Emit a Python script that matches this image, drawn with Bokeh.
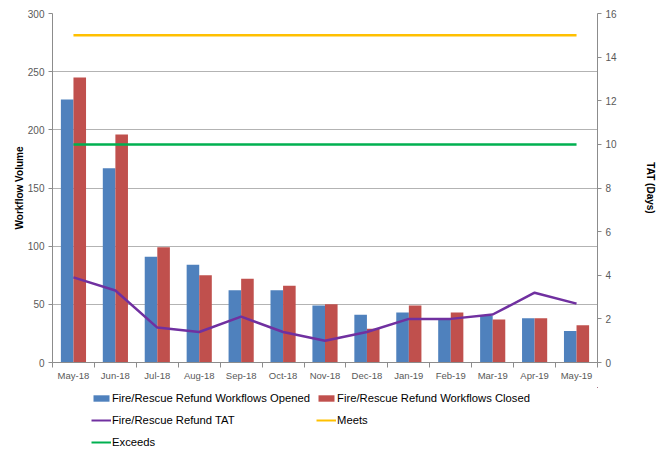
from bokeh.plotting import figure
from bokeh.models import (Range1d, LinearAxis, FixedTicker, SingleIntervalTicker,
                          Legend, LegendItem, ColumnDataSource)
from bokeh.layouts import column
from bokeh.embed import file_html
from bokeh.resources import INLINE

months = ["May-18", "Jun-18", "Jul-18", "Aug-18", "Sep-18", "Oct-18", "Nov-18",
          "Dec-18", "Jan-19", "Feb-19", "Mar-19", "Apr-19", "May-19"]
opened = [226, 167, 91, 84, 62, 62, 49, 41, 43, 38, 40, 38, 27]
closed = [245, 196, 99, 75, 72, 66, 50, 29, 49, 43, 37, 38, 32]
tat = [3.9, 3.3, 1.6, 1.4, 2.1, 1.4, 1.0, 1.4, 2.0, 2.0, 2.2, 3.2, 2.7]
meets = [15, 15, 15, 15, 15, 15, 15, 15, 15, 15, 15, 15, 15]
exceeds = [10, 10, 10, 10, 10, 10, 10, 10, 10, 10, 10, 10, 10]
series_names = ["Fire/Rescue Refund Workflows Opened",
                "Fire/Rescue Refund Workflows Closed",
                "Fire/Rescue Refund TAT", "Meets", "Exceeds"]

FONT = "Liberation Sans"
BLUE, RED, PURPLE, GOLD, GREEN = "#4F81BD", "#C0504D", "#7030A0", "#FFC000", "#00B050"
n = len(months)
centers = [i + 0.5 for i in range(n)]
src = ColumnDataSource(dict(
    c=centers,
    xo=[c - 0.15 for c in centers],
    xc=[c + 0.15 for c in centers],
    opened=opened, closed=closed, tat=tat, meets=meets, exceeds=exceeds,
))

p = figure(frame_width=545, frame_height=349, output_backend="svg",
           toolbar_location=None,
           x_range=Range1d(0, n), y_range=Range1d(0, 300),
           min_border_left=52, min_border_top=13, min_border_right=63,
           min_border_bottom=25)
p.outline_line_color = None
p.extra_y_ranges = {"tat": Range1d(0, 16)}

p.xgrid.visible = False
p.ygrid.grid_line_color = "#B3B3B3"
p.ygrid.grid_line_width = 1
p.ygrid.ticker = SingleIntervalTicker(interval=50)

p.vbar(x="xo", top="opened", width=0.3, source=src, fill_color=BLUE, line_color=None)
p.vbar(x="xc", top="closed", width=0.3, source=src, fill_color=RED, line_color=None)
p.line(x="c", y="tat", source=src, line_color=PURPLE, line_width=2.5, y_range_name="tat")
p.line(x="c", y="meets", source=src, line_color=GOLD, line_width=2.5, y_range_name="tat")
p.line(x="c", y="exceeds", source=src, line_color=GREEN, line_width=2.5, y_range_name="tat")

axis_color = "#8C8C8C"
label_color = "#595959"

# x axis
xa = p.xaxis[0]
xa.ticker = FixedTicker(ticks=centers, minor_ticks=list(range(n + 1)))
xa.major_label_overrides = {c: m for c, m in zip(centers, months)}
xa.major_tick_out = 0
xa.major_tick_in = 0
xa.minor_tick_out = 5
xa.minor_tick_in = 0
xa.minor_tick_line_color = axis_color
xa.axis_line_color = axis_color
xa.major_label_text_font = FONT
xa.major_label_text_font_size = "9.5px"
xa.major_label_text_color = label_color
xa.major_label_standoff = 2

# left axis
ya = p.yaxis[0]
ya.ticker = SingleIntervalTicker(interval=50)
ya.axis_line_color = axis_color
ya.major_tick_line_color = axis_color
ya.major_tick_out = 4
ya.major_tick_in = 0
ya.minor_tick_line_color = None
ya.major_label_text_font = FONT
ya.major_label_text_font_size = "10px"
ya.major_label_text_color = label_color
ya.major_label_standoff = 4
ya.axis_label = "Workflow Volume"
ya.axis_label_text_font = FONT
ya.axis_label_text_font_size = "10px"
ya.axis_label_text_font_style = "bold"
ya.axis_label_text_color = "#000000"
ya.axis_label_standoff = 0

# right axis
ra = LinearAxis(y_range_name="tat", ticker=SingleIntervalTicker(interval=2))
ra.axis_line_color = axis_color
ra.major_tick_line_color = axis_color
ra.major_tick_out = 4
ra.major_tick_in = 0
ra.minor_tick_line_color = None
ra.major_label_text_font = FONT
ra.major_label_text_font_size = "10px"
ra.major_label_text_color = label_color
ra.major_label_standoff = 4
ra.axis_label = "TAT (Days)"
ra.axis_label_text_font = FONT
ra.axis_label_text_font_size = "10px"
ra.axis_label_text_font_style = "bold"
ra.axis_label_text_color = "#000000"
ra.axis_label_standoff = 25
p.add_layout(ra, "right")

# legend panel below the chart (its glyphs draw the same data, kept out of view)
lg = figure(width=660, height=64, output_backend="svg", toolbar_location=None,
            x_range=Range1d(-100, -99), y_range=Range1d(-100, -99),
            x_axis_location=None, y_axis_location=None, min_border=0)
lg.outline_line_color = None
lg.grid.visible = False
g1 = lg.vbar(x="xo", top="opened", width=0.3, source=src, fill_color=BLUE, line_color=None)
g2 = lg.vbar(x="xc", top="closed", width=0.3, source=src, fill_color=RED, line_color=None)
g3 = lg.line(x="c", y="tat", source=src, line_color=PURPLE, line_width=2)
g4 = lg.line(x="c", y="meets", source=src, line_color=GOLD, line_width=2)
g5 = lg.line(x="c", y="exceeds", source=src, line_color=GREEN, line_width=2)
items = [LegendItem(label=s, renderers=[r]) for s, r in
         zip(series_names, [g1, g2, g3, g4, g5])]
# column-major fill: first column Opened / TAT / Exceeds, second Closed / Meets
legend = Legend(items=[items[0], items[2], items[4], items[1], items[3]],
                nrows=3, location=(39, 1))
legend.label_text_font = FONT
legend.label_text_font_size = "11.25px"
legend.label_text_color = "#000000"
legend.glyph_width = 20
legend.glyph_height = 8
legend.label_height = 16
legend.label_standoff = 1
legend.spacing = 6
legend.padding = 0
legend.margin = 0
legend.border_line_color = None
legend.background_fill_alpha = 0
lg.add_layout(legend, "center")

open("out.html", "w").write(file_html(column(p, lg, spacing=0), INLINE))
